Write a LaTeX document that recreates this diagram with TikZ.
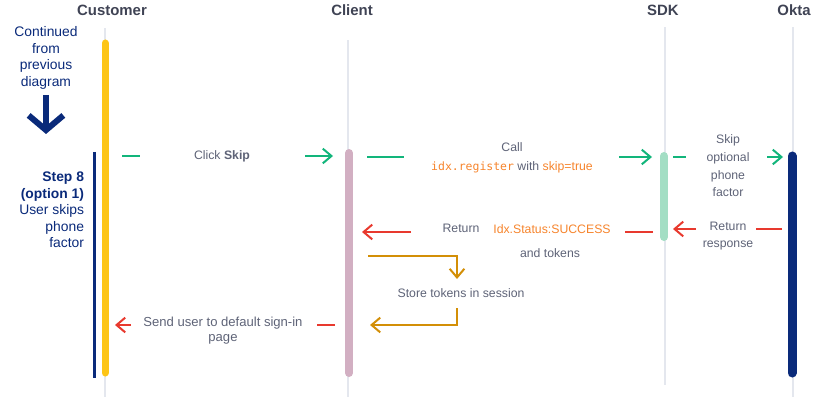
\documentclass[tikz,border=0pt]{standalone}
\usepackage{fontspec}
\setmainfont{Liberation Sans}
\newfontfamily\codefont{DejaVu Sans Mono}
\usetikzlibrary{arrows.meta}

\definecolor{lifegray}{HTML}{E4E7EE}
\definecolor{custyellow}{HTML}{FDC516}
\definecolor{clientpink}{HTML}{D2AFC2}
\definecolor{sdkmint}{HTML}{A3DEC4}
\definecolor{oktanavy}{HTML}{0A2A7A}
\definecolor{msggreen}{HTML}{12B57B}
\definecolor{msgred}{HTML}{E8392E}
\definecolor{codeorange}{HTML}{F6842C}
\definecolor{selfgold}{HTML}{D38F07}
\definecolor{txtgray}{HTML}{5E6377}
\definecolor{headgray}{HTML}{3F4354}

\tikzset{
  every picture/.style={line width=1.5pt},
  head/.style={font=\fontsize{11.2}{13}\selectfont\bfseries,text=headgray},
  msg/.style={font=\fontsize{9.2}{13.3}\selectfont,text=txtgray,align=center,inner sep=0pt},
  note/.style={msg,text=oktanavy,font=\fontsize{10.4}{12.4}\selectfont},
  lifeline/.style={lifegray,line width=1.5pt},
  bar/.style={line width=#1,line cap=round},
  chev/.style={-{Straight Barb[length=6.5pt,width=11pt]}},
}

\begin{document}
\begin{tikzpicture}[x=0.75pt,y=-0.75pt]
  \useasboundingbox (0,0) rectangle (823,413);
  % headers
  \node[head] (customer) at (112,10) {Customer};
  \node[head] (client) at (352,10) {Client};
  \node[head] (sdk) at (663,10) {SDK};
  \node[head] (okta) at (794,10) {Okta};
  % lifelines
  \draw[lifeline] (105,28) -- (105,397);
  \draw[lifeline] (348,40) -- (348,397);
  \draw[lifeline] (665,27) -- (665,385);
  \draw[lifeline] (793,27) -- (793,397);
  \draw[bar=5.25pt,custyellow] (105,43) -- (105,373);
  \draw[bar=6pt,clientpink] (349,153) -- (349,373);
  \draw[bar=6pt,sdkmint] (664,156) -- (664,237);
  \draw[bar=6.75pt,oktanavy] (792,156) -- (792,373);
  % left side notes
  \node[note] (cont) at (46,58) {Continued\\from\\previous\\diagram};
  \coordinate (dstart) at (46,95); \coordinate (dend) at (46,134);
  \draw[oktanavy,line width=4.5pt,-{Straight Barb[length=11pt,width=26pt,line width=4.5pt]}]
    (dstart) -- (dend);
  \draw[oktanavy,line width=2.25pt] (94,152) -- (94,378);
  \node[note,align=right,anchor=east] (step) at (85,210)
    {\textbf{Step 8}\\\textbf{(option 1)}\\User skips\\phone\\factor};
  % Click Skip
  \coordinate (m1a) at (122,156); \coordinate (m1b) at (140,156);
  \coordinate (m1c) at (305,156); \coordinate (m1d) at (333,156);
  \node[msg] (click) at (222,156) {Click \textbf{Skip}};
  \draw[msggreen] (m1a) -- (m1b);
  \draw[msggreen,chev] (m1c) -- (m1d);
  % Call idx.register
  \coordinate (m2a) at (367,157); \coordinate (m2b) at (404,157);
  \coordinate (m2c) at (619,157); \coordinate (m2d) at (652,157);
  \node[msg] (call) at (512,147) {Call};
  \node[msg] (callcode) at (512,167)
    {{\codefont\fontsize{8.6}{10}\selectfont\color{codeorange}idx.register} with {\color{codeorange}skip=true}};
  \draw[msggreen] (m2a) -- (m2b);
  \draw[msggreen,chev] (m2c) -- (m2d);
  % Skip optional phone factor
  \coordinate (m3a) at (673,157); \coordinate (m3b) at (686,157);
  \coordinate (m3c) at (767,157); \coordinate (m3d) at (783,157);
  \node[msg] (skipfac) at (728,166) {Skip\\optional\\phone\\factor};
  \draw[msggreen] (m3a) -- (m3b);
  \draw[msggreen,chev] (m3c) -- (m3d);
  % Return response
  \coordinate (m4a) at (782,229); \coordinate (m4b) at (756,229);
  \coordinate (m4c) at (696,229); \coordinate (m4d) at (673,229);
  \node[msg,font=\fontsize{9.2}{12.8}\selectfont] (retresp) at (728,236) {Return\\response};
  \draw[msgred] (m4a) -- (m4b);
  \draw[msgred,chev] (m4c) -- (m4d);
  % Return Idx.Status:SUCCESS
  \coordinate (m5a) at (653,232); \coordinate (m5b) at (625,232);
  \coordinate (m5c) at (411,232); \coordinate (m5d) at (362,232);
  \node[msg] (ret) at (461,228) {Return};
  \node[msg,text=codeorange] (status) at (552,229) {Idx.Status:SUCCESS};
  \node[msg] (tokens) at (550,253) {and tokens};
  \draw[msgred] (m5a) -- (m5b);
  \draw[msgred,chev] (m5c) -- (m5d);
  % Store tokens in session
  \coordinate (m6a) at (368,256); \coordinate (m6b) at (457,256);
  \coordinate (m6c) at (457,279); \coordinate (m6d) at (457,308);
  \coordinate (m6e) at (457,325); \coordinate (m6f) at (370,325);
  \node[msg] (store) at (461,293) {Store tokens in session};
  \draw[selfgold,chev] (m6a) -- (m6b) -- (m6c);
  \draw[selfgold,chev] (m6d) -- (m6e) -- (m6f);
  % Send user to sign-in page
  \coordinate (m7a) at (335,325); \coordinate (m7b) at (317,325);
  \coordinate (m7c) at (131,325); \coordinate (m7d) at (115,325);
  \node[msg,font=\fontsize{9.8}{11.2}\selectfont] (senduser) at (223,331) {Send user to default sign-in\\page};
  \draw[msgred] (m7a) -- (m7b);
  \draw[msgred,chev] (m7c) -- (m7d);
\end{tikzpicture}
\end{document}
